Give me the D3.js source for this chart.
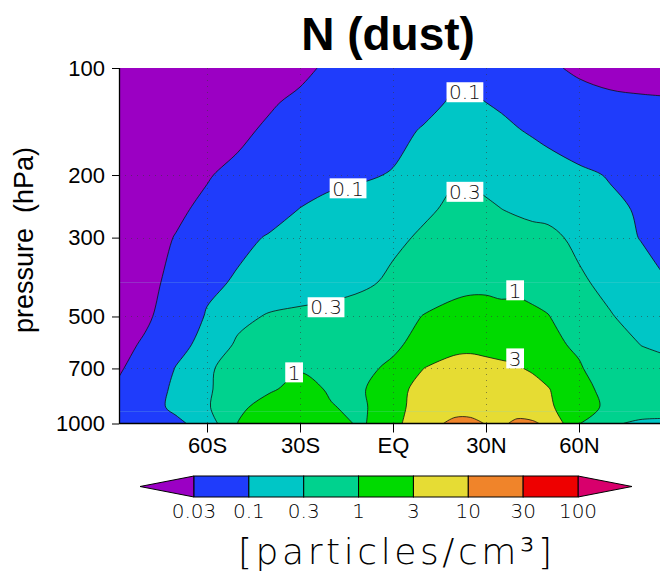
<!DOCTYPE html>
<html>
<head>
<meta charset="utf-8">
<script src="https://cdn.jsdelivr.net/npm/d3@7"></script>
<style>
  body { margin: 0; background: #fff; }
  svg { display: block; }
</style>
</head>
<body>
<svg id="chart" width="660" height="574"></svg>
<script>
// Zonal-mean dust aerosol number concentration N, latitude vs pressure.

// Grid latitudes (degrees, S negative) and pressure levels (hPa)
const latitudes = [-90, -80, -70, -60, -50, -40, -30, -20, -10, 0, 10, 20, 25, 30, 35, 40, 45, 50, 60, 70, 80, 90];
const pressureLevels = [100, 125, 150, 200, 250, 300, 400, 500, 600, 700, 800, 900, 1000];

// log10 of N [particles/cm3], one row per pressure level, one value per latitude
const logN_100  = [-2.30, -2.30, -2.20, -2.10, -2.00, -1.85, -1.65, -1.42, -1.28, -1.20, -1.12, -1.07, -1.08, -1.10, -1.16, -1.25, -1.35, -1.45, -1.60, -1.70, -1.75, -1.78];
const logN_125  = [-2.10, -2.05, -1.95, -1.85, -1.72, -1.58, -1.42, -1.28, -1.18, -1.12, -1.10, -0.95, -0.96, -1.00, -1.05, -1.12, -1.18, -1.25, -1.35, -1.42, -1.45, -1.47];
const logN_150  = [-1.95, -1.90, -1.82, -1.72, -1.62, -1.45, -1.32, -1.22, -1.15, -1.10, -0.97, -0.85, -0.85, -0.88, -0.92, -0.98, -1.04, -1.10, -1.20, -1.28, -1.32, -1.35];
const logN_200  = [-1.80, -1.75, -1.67, -1.55, -1.42, -1.30, -1.20, -1.06, -1.04, -0.98, -0.72, -0.56, -0.56, -0.60, -0.65, -0.72, -0.78, -0.84, -0.94, -1.02, -1.08, -1.10];
const logN_250  = [-1.72, -1.67, -1.58, -1.45, -1.30, -1.15, -0.99, -0.93, -0.86, -0.75, -0.58, -0.45, -0.45, -0.48, -0.52, -0.56, -0.60, -0.62, -0.82, -0.94, -1.03, -1.06];
const logN_300  = [-1.68, -1.64, -1.51, -1.30, -1.10, -0.97, -0.88, -0.80, -0.70, -0.60, -0.47, -0.38, -0.36, -0.35, -0.37, -0.40, -0.42, -0.44, -0.60, -0.80, -1.02, -1.08];
const logN_400  = [-1.62, -1.60, -1.45, -1.10, -0.95, -0.85, -0.77, -0.70, -0.60, -0.45, -0.28, -0.12, -0.08, -0.08, -0.10, -0.10, -0.15, -0.25, -0.47, -0.62, -0.80, -1.02];
const logN_500  = [-1.62, -1.58, -1.35, -0.96, -0.65, -0.48, -0.42, -0.38, -0.32, -0.20,  0.02,  0.12,  0.13,  0.13,  0.10,  0.12,  0.08,  0.02, -0.30, -0.50, -0.65, -0.75];
const logN_600  = [-1.65, -1.48, -1.15, -0.85, -0.45, -0.30, -0.20, -0.18, -0.15, -0.10,  0.20,  0.38,  0.39,  0.35,  0.32,  0.30,  0.22,  0.12, -0.08, -0.30, -0.53, -0.60];
const logN_700  = [-1.58, -1.40, -0.98, -0.60, -0.30, -0.12, -0.03, -0.08, -0.12,  0.10,  0.48,  0.60,  0.62,  0.60,  0.56,  0.52,  0.42,  0.30,  0.05, -0.30, -0.35, -0.45];
const logN_800  = [-1.51, -1.30, -0.90, -0.60, -0.20, -0.05,  0.12, -0.04, -0.05,  0.35,  0.60,  0.75,  0.75,  0.72,  0.72,  0.72,  0.65,  0.50,  0.15, -0.15, -0.30, -0.40];
const logN_900  = [-1.35, -1.20, -0.90, -0.58, -0.08,  0.15,  0.25,  0.02, -0.08,  0.35,  0.65,  0.90,  0.90,  0.85,  0.84,  0.88,  0.78,  0.55,  0.20, -0.10, -0.35, -0.42];
const logN_1000 = [-1.30, -1.15, -1.10, -0.80,  0.01,  0.25,  0.35,  0.12, -0.05,  0.30,  0.90,  1.06,  1.06,  0.99,  0.96,  1.05,  1.05,  0.93,  0.02, -0.48, -0.58, -0.57];
const logNRows = [logN_100, logN_125, logN_150, logN_200, logN_250, logN_300, logN_400,
                  logN_500, logN_600, logN_700, logN_800, logN_900, logN_1000];

// Contour levels [particles/cm3] and the fill colour of each band
const contourLevels = [0.03, 0.1, 0.3, 1, 3, 10, 30, 100];
const bandColors = ["#9b00c4", "#1f3cfb", "#00c6c6", "#00d28e", "#00da00", "#e6dc34", "#f0842a", "#ee0000", "#d8006c"];

// Axis ticks
const pressureTicks = [100, 200, 300, 500, 700, 1000];
const latTicks = [-60, -30, 0, 30, 60];
const latTickLabels = ["60S", "30S", "EQ", "30N", "60N"];
const gridPressures = [200, 300, 500, 700];
const faintPressures = [400, 925];

// Where the in-line contour labels sit (lat, hPa)
const labelAnchors = [
  { level: 0.1, lat: -14.5, p: 218 },
  { level: 0.1, lat: 23.2, p: 117 },
  { level: 0.3, lat: 23.2, p: 223 },
  { level: 0.3, lat: -21.6, p: 471 },
  { level: 1, lat: -31.9, p: 718 },
  { level: 1, lat: 39.4, p: 422 },
  { level: 3, lat: 39.4, p: 656 }
];

const svg = d3.select("#chart");
const plot = { left: 119, right: 667, top: 68, bottom: 423.5 };
const x = d3.scaleLinear().domain([-90, 90]).range([114, 672]);
const y = d3.scaleLog().domain([100, 1000]).range([plot.top, plot.bottom]);

const thinFont = "'DejaVu Sans', sans-serif";
const sansFont = "'Liberation Sans', Arial, sans-serif";

const defs = svg.append("defs");
defs.append("clipPath").attr("id", "plotClip")
  .append("rect")
  .attr("x", plot.left).attr("y", plot.top)
  .attr("width", plot.right - plot.left).attr("height", plot.bottom - plot.top);

// ---- contour bands ----
const nx = latitudes.length, ny = pressureLevels.length;
const values = logNRows.flat();
const logP = pressureLevels.map(Math.log10);

function along(arr, f) {
  f = Math.max(0, Math.min(arr.length - 1, f));
  const i = Math.min(arr.length - 2, Math.floor(f));
  const t = f - i;
  return arr[i] * (1 - t) + arr[i + 1] * t;
}
function project(c) {
  return [x(along(latitudes, c[0] - 0.5)), y(Math.pow(10, along(logP, c[1] - 0.5)))];
}
const xMin = x(-90), xMax = x(90), yMin = y(100), yMax = y(1000);
function onEdge(p) {
  return p[0] <= xMin + 0.01 || p[0] >= xMax - 0.01 || p[1] <= yMin + 0.01 || p[1] >= yMax - 0.01;
}

const openCurve = d3.line().curve(d3.curveCatmullRom.alpha(0.5));
const closedCurve = d3.line().curve(d3.curveCatmullRomClosed.alpha(0.5));

// Smooth one contour ring: interior runs become curves, edge runs stay straight
function ringPieces(ring) {
  const pts = [];
  for (const c of ring.slice(0, -1)) {
    const p = project(c);
    const last = pts[pts.length - 1];
    if (!last || Math.hypot(p[0] - last[0], p[1] - last[1]) > 0.05) pts.push(p);
  }
  if (pts.length > 1) {
    const f = pts[0], l = pts[pts.length - 1];
    if (Math.hypot(f[0] - l[0], f[1] - l[1]) <= 0.05) pts.pop();
  }
  if (pts.length < 3) return { fill: "", strokes: [] };
  const edge = pts.map(onEdge);
  const start = edge.indexOf(true);
  if (start < 0) {
    const d = closedCurve(pts);
    return { fill: d, strokes: [d] };
  }
  const seq = pts.slice(start).concat(pts.slice(0, start));
  const e = edge.slice(start).concat(edge.slice(0, start));
  seq.push(seq[0]); e.push(true);
  let fill = `M${seq[0][0]},${seq[0][1]}`;
  const strokes = [];
  let k = 0;
  const n = seq.length - 1;
  while (k < n) {
    if (!e[k + 1]) {
      let m = k + 1;
      while (!e[m]) m++;
      const d = openCurve(seq.slice(k, m + 1));
      strokes.push(d);
      fill += "L" + d.slice(1);
      k = m;
    } else {
      fill += `L${seq[k + 1][0]},${seq[k + 1][1]}`;
      k++;
    }
  }
  return { fill: fill + "Z", strokes };
}

const bands = d3.contours()
  .size([nx, ny])
  .thresholds(contourLevels.map(Math.log10))(values);

const field = svg.append("g").attr("clip-path", "url(#plotClip)");
field.append("rect")
  .attr("x", plot.left).attr("y", plot.top)
  .attr("width", plot.right - plot.left).attr("height", plot.bottom - plot.top)
  .attr("fill", bandColors[0]);

const strokeList = [];
bands.forEach((band, i) => {
  let d = "";
  band.coordinates.forEach(poly => poly.forEach(ring => {
    const r = ringPieces(ring);
    d += r.fill;
    strokeList.push(...r.strokes);
  }));
  if (d) field.append("path").attr("d", d).attr("fill", bandColors[i + 1]).attr("fill-rule", "evenodd");
});

// dotted grid
const grid = field.append("g").attr("stroke", "#3a3a3a").attr("stroke-width", 1)
  .attr("stroke-dasharray", "1,5").attr("opacity", 0.55);
grid.selectAll("line.v").data(latTicks).join("line").attr("class", "v")
  .attr("x1", d => x(d) + 0.5).attr("x2", d => x(d) + 0.5)
  .attr("y1", plot.top).attr("y2", plot.bottom);
grid.selectAll("line.h").data(gridPressures).join("line").attr("class", "h")
  .attr("y1", d => Math.round(y(d)) + 0.5).attr("y2", d => Math.round(y(d)) + 0.5)
  .attr("x1", plot.left).attr("x2", plot.right);

// faint model-level lines
field.selectAll("line.faint").data(faintPressures).join("line").attr("class", "faint")
  .attr("y1", d => Math.round(y(d)) + 0.5).attr("y2", d => Math.round(y(d)) + 0.5)
  .attr("x1", plot.left).attr("x2", plot.right)
  .attr("stroke", "rgba(130,210,215,0.22)").attr("stroke-width", 1);

// contour lines
field.append("g").selectAll("path").data(strokeList).join("path")
  .attr("d", d => d).attr("fill", "none").attr("stroke", "#111").attr("stroke-width", 0.8);

// in-line contour labels
const labels = svg.append("g");
labelAnchors.forEach(a => {
  const g = labels.append("g").attr("transform", `translate(${x(a.lat)},${y(a.p)})`);
  const rect = g.append("rect").attr("fill", "#fff");
  const t = g.append("text")
    .attr("text-anchor", "middle").attr("dy", "0.36em")
    .attr("font-family", thinFont).attr("font-weight", 200).attr("font-size", 20)
    .attr("fill", "#111")
    .text(String(a.level));
  const bb = t.node().getBBox();
  rect.attr("x", -bb.width / 2 - 2.5).attr("y", -10).attr("width", bb.width + 5).attr("height", 20);
});

// ---- axes ----
const yAxis = svg.append("g").attr("transform", `translate(${plot.left},0)`)
  .call(d3.axisLeft(y).tickValues(pressureTicks).tickFormat(d3.format("d")).tickSize(7).tickSizeOuter(0).tickPadding(7));
yAxis.select(".domain").remove();
yAxis.selectAll("text").attr("font-family", sansFont).attr("font-size", 22).attr("fill", "#000");
yAxis.selectAll("line").attr("stroke", "#000");

const xAxis = svg.append("g").attr("transform", `translate(0,${plot.bottom})`)
  .call(d3.axisBottom(x).tickValues(latTicks).tickFormat((d, i) => latTickLabels[i]).tickSize(9).tickSizeOuter(0).tickPadding(5));
xAxis.select(".domain").remove();
xAxis.selectAll("text").attr("font-family", sansFont).attr("font-size", 22).attr("fill", "#000");
xAxis.selectAll("line").attr("stroke", "#000");

svg.append("line").attr("x1", plot.left + 0.5).attr("x2", plot.left + 0.5)
  .attr("y1", plot.top).attr("y2", plot.bottom + 0.5).attr("stroke", "#000").attr("stroke-width", 1.3);
svg.append("line").attr("x1", plot.left).attr("x2", 660)
  .attr("y1", plot.bottom).attr("y2", plot.bottom).attr("stroke", "#000").attr("stroke-width", 1.3);

// axis title and chart title
svg.append("text")
  .attr("transform", "translate(33,240) rotate(-90)")
  .attr("text-anchor", "middle")
  .attr("font-family", sansFont).attr("font-size", 27)
  .style("white-space", "pre")
  .text("pressure  (hPa)");

svg.append("text")
  .attr("x", 388).attr("y", 50)
  .attr("text-anchor", "middle")
  .attr("font-family", sansFont).attr("font-weight", "bold").attr("font-size", 46)
  .text("N (dust)");

// ---- colour bar ----
const cb = { left: 194, right: 578, top: 476, bottom: 497, tip: 54 };
const cbx = d3.scaleLinear().domain([0, contourLevels.length - 1]).range([cb.left, cb.right]);
const cbar = svg.append("g");
const mid = (cb.top + cb.bottom) / 2;
cbar.append("path")
  .attr("d", `M${cb.left},${cb.top}L${cb.left - cb.tip},${mid}L${cb.left},${cb.bottom}Z`)
  .attr("fill", bandColors[0]).attr("stroke", "#000").attr("stroke-width", 1);
cbar.append("path")
  .attr("d", `M${cb.right},${cb.top}L${cb.right + cb.tip},${mid}L${cb.right},${cb.bottom}Z`)
  .attr("fill", bandColors[bandColors.length - 1]).attr("stroke", "#000").attr("stroke-width", 1);
cbar.selectAll("rect").data(d3.range(contourLevels.length - 1)).join("rect")
  .attr("x", i => cbx(i)).attr("y", cb.top)
  .attr("width", i => cbx(i + 1) - cbx(i)).attr("height", cb.bottom - cb.top)
  .attr("fill", i => bandColors[i + 1]).attr("stroke", "#000").attr("stroke-width", 1);
cbar.selectAll("text").data(contourLevels).join("text")
  .attr("x", (d, i) => cbx(i)).attr("y", 518)
  .attr("text-anchor", "middle")
  .attr("font-family", thinFont).attr("font-weight", 200).attr("font-size", 20)
  .attr("fill", "#000")
  .text(d => String(d));

// units
svg.append("text")
  .attr("x", 395).attr("y", 564)
  .attr("text-anchor", "middle")
  .attr("font-family", thinFont).attr("font-weight", 200).attr("font-size", 36)
  .attr("fill", "#000")
  .attr("textLength", 314).attr("lengthAdjust", "spacing")
  .text("[particles/cm³]");
</script>
</body>
</html>
